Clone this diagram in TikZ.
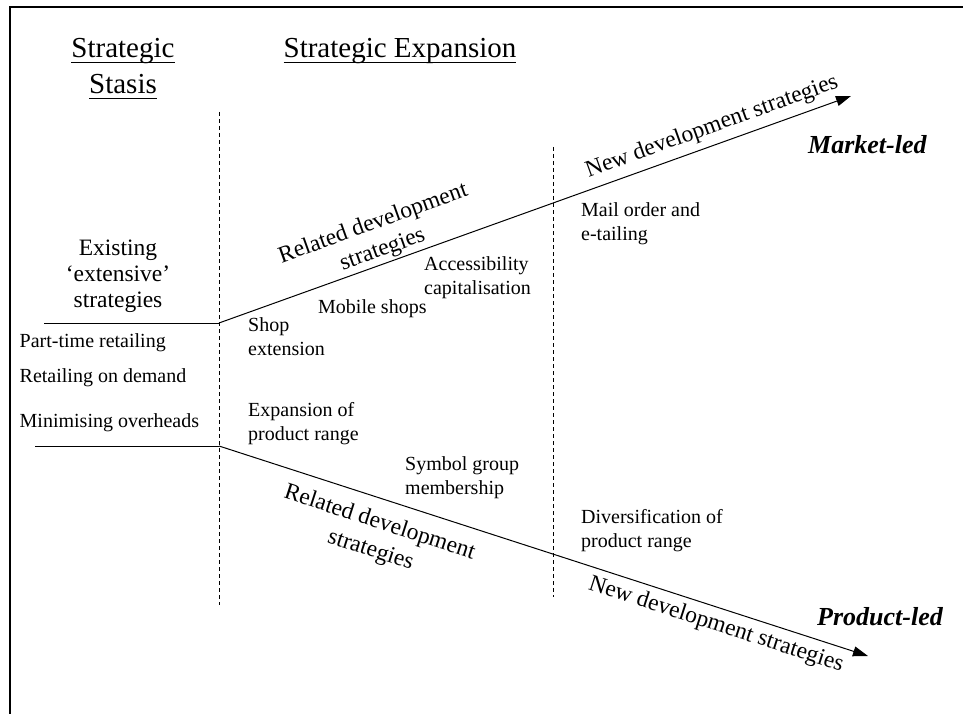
\documentclass[tikz,border=0pt]{standalone}
\usepackage{fontspec}
\setmainfont{Liberation Serif}
\usetikzlibrary{arrows.meta}
\newcommand{\myul}[1]{\setbox0\hbox{#1}\rlap{\rule[-5pt]{\wd0}{1.3pt}}\box0}
\begin{document}
\begin{tikzpicture}[x=1pt,y=-1pt,
  body/.style={inner sep=0pt, font=\fontsize{20}{23.5}\selectfont, align=left, anchor=base west},
  mid/.style={inner sep=0pt, font=\fontsize{23.5}{26}\selectfont, align=center},
  head/.style={inner sep=0pt, font=\fontsize{29}{35}\selectfont, anchor=base},
  lead/.style={inner sep=0pt, font=\fontsize{26}{30}\selectfont\bfseries\itshape, anchor=west},
  divider/.style={dash pattern=on 4pt off 3pt, line width=0.8pt},
  axis/.style={line width=1pt},
  arrowaxis/.style={line width=1pt, -{Triangle[length=15pt,width=10pt]}},
]
\useasboundingbox (0,0) rectangle (963,714);
% frame
\coordinate (f1) at (9.5,714);
\coordinate (f2) at (9.5,7);
\coordinate (f3) at (963,7);
\draw[line width=2pt] (f1) -- (f2) -- (f3);

% headings
\node[head] (hs1) at (123,58) {\myul{Strategic}};
\node[head] (hs2) at (123,94) {\myul{Stasis}};
\node[head] (he) at (400,58) {\myul{Strategic Expansion}};

% dashed dividers
\coordinate (d1t) at (219,112);
\coordinate (d1b) at (219,605);
\coordinate (d2t) at (553,147);
\coordinate (d2b) at (553,597);
\draw[divider] (d1t) -- (d1b);
\draw[divider] (d2t) -- (d2b);

% axes
\coordinate (u0) at (44,323);
\coordinate (u1) at (219,323);
\coordinate (u2) at (851,96);
\coordinate (l0) at (35,446);
\coordinate (l1) at (219,446);
\coordinate (l2) at (868,656);
\draw[axis] (u0) -- (u1);
\draw[arrowaxis] (u1) -- (u2);
\draw[axis] (l0) -- (l1);
\draw[arrowaxis] (l1) -- (l2);

% stasis block (base = last line)
\node[mid, anchor=base] (exist) at (118,307) {Existing\\`extensive'\\strategies};
\node[body] (pt) at (19.5,347.5) {Part-time retailing};
\node[body] (rd) at (19.5,382.5) {Retailing on demand};
\node[body] (mo) at (19.5,427) {Minimising overheads};

% upper region
\node[body] (se) at (248,355) {Shop\\extension};
\node[body] (ms) at (318,313) {Mobile shops};
\node[body] (ac) at (424,294) {Accessibility\\capitalisation};
\node[body] (mail) at (581,240) {Mail order and\\e-tailing};
\node[mid, rotate=19.8, font=\fontsize{23.5}{27.5}\selectfont] (rdu) at (378,237) {Related development\\strategies};
\node[mid, rotate=19.8] (ndu) at (712,127) {New development strategies};
\node[lead] (mkt) at (808,145) {Market-led};

% lower region
\node[body] (ep) at (248,440) {Expansion of\\product range};
\node[body] (sg) at (405,494) {Symbol group\\membership};
\node[body] (dv) at (581,547) {Diversification of\\product range};
\node[mid, rotate=-17.9, font=\fontsize{23.5}{29}\selectfont] (rdl) at (375,537) {Related development\\strategies};
\node[mid, rotate=-17.9] (ndl) at (716,625) {New development strategies};
\node[lead] (prd) at (817,617) {Product-led};
\end{tikzpicture}
\end{document}
